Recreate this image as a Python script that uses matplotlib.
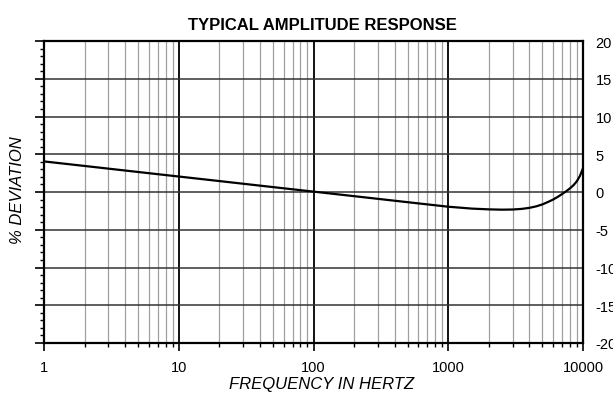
import matplotlib
matplotlib.use("Agg")
import matplotlib.pyplot as plt
import numpy as np
from matplotlib.ticker import FixedLocator, NullFormatter

plt.rcParams['font.family'] = ['Liberation Sans', 'DejaVu Sans']

freq = [1, 2, 5, 10, 20, 50, 100, 200, 500, 1000, 1500, 2000, 2500, 3000,
        3500, 4000, 4500, 5000, 5500, 6000, 6500, 7000, 7500, 8000, 8500,
        9000, 9500, 10000]
deviation = [4.05, 3.45, 2.65, 2.05, 1.45, 0.65, 0.05, -0.55, -1.35, -1.95,
             -2.2, -2.3, -2.34, -2.32, -2.24, -2.1, -1.9, -1.64, -1.32, -1.0,
             -0.64, -0.27, 0.1, 0.48, 0.9, 1.42, 2.15, 3.15]

x_ticks = [1, 10, 100, 1000, 10000]
x_tick_labels = ["1", "10", "100", "1000", "10000"]
y_ticks = [-20, -15, -10, -5, 0, 5, 10, 15, 20]
y_tick_labels = ["-20", "-15", "-10", "-5", "0", "5", "10", "15", "20"]

W, H = 613, 402
fig = plt.figure(figsize=(W / 100, H / 100), dpi=100)
ax = fig.add_axes([44 / W, 1 - 344 / H, (583 - 44) / W, (344 - 42) / H])

ax.set_xscale('log')
ax.set_xlim(1, 10000)
ax.set_ylim(-20, 20)

# grid
minor_x = [m * 10 ** d for d in range(4) for m in range(2, 10)]
for xv in minor_x:
    ax.axvline(xv, color='#a0a0a0', lw=0.9, zorder=1)
for xv in x_ticks:
    ax.axvline(xv, color='#111111', lw=1.4, zorder=2)
for yv in y_ticks:
    ax.axhline(yv, color='#333333', lw=1.1, zorder=2)

ax.plot(freq, deviation, color='black', lw=1.6, zorder=3)

ax.xaxis.set_major_locator(FixedLocator(x_ticks))
ax.set_xticklabels(x_tick_labels)
ax.xaxis.set_minor_locator(FixedLocator(minor_x))
ax.xaxis.set_minor_formatter(NullFormatter())

ax.yaxis.set_major_locator(FixedLocator(y_ticks))
ax.set_yticklabels(y_tick_labels)
ax.yaxis.set_minor_locator(FixedLocator([v for v in range(-20, 21) if v % 5 != 0]))

ax.tick_params(axis='x', which='major', direction='out', length=6, width=1.2,
               labelsize=10.5, pad=6, top=False)
ax.tick_params(axis='x', which='minor', direction='out', length=3, width=1.0, top=False)
ax.tick_params(axis='y', which='major', direction='out', length=6.5, width=1.2,
               left=True, right=False, labelleft=False, labelright=True,
               labelsize=10.5, pad=2.5)
ax.tick_params(axis='y', which='minor', direction='out', length=3, width=1.0,
               left=True, right=False)

for s in ax.spines.values():
    s.set_linewidth(1.6)
    s.set_color('black')

fig.text(322 / W, 1 - 26 / H, "TYPICAL AMPLITUDE RESPONSE", ha='center', va='center',
         fontsize=12, fontweight='bold')
fig.text(322 / W, 1 - 385 / H, "FREQUENCY IN HERTZ", ha='center', va='center',
         fontsize=12, fontstyle='italic')
fig.text(18 / W, 1 - 190 / H, "% DEVIATION", ha='center', va='center',
         rotation=90, fontsize=12, fontstyle='italic')

fig.savefig("out.png", dpi=100)
